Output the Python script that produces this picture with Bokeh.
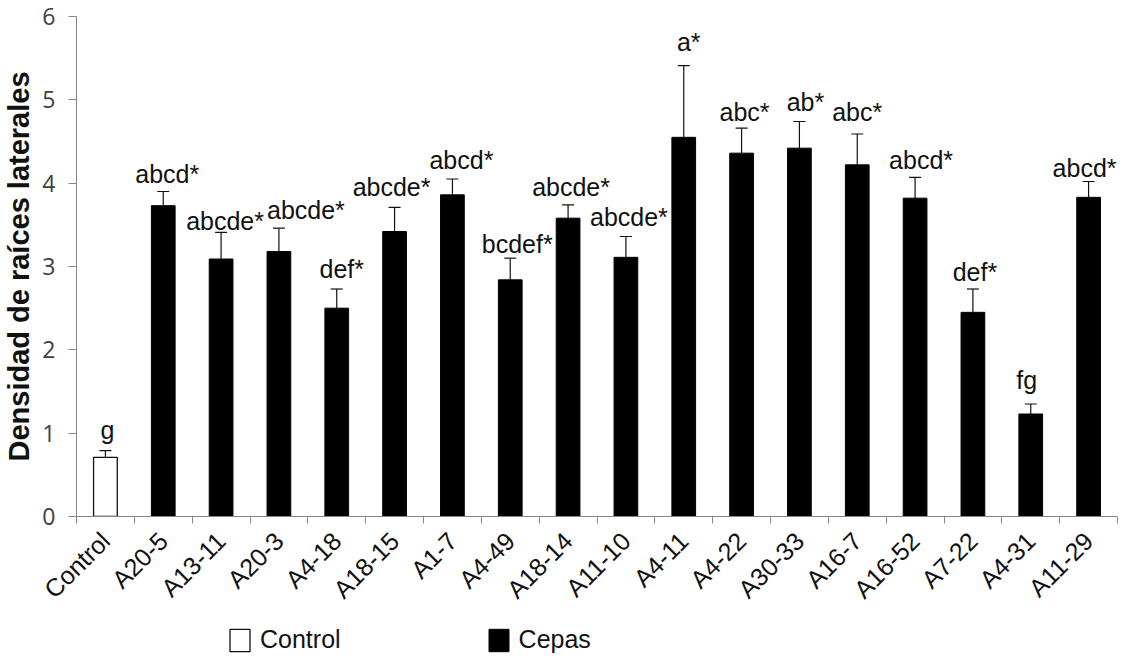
import math
from bokeh.plotting import figure
from bokeh.layouts import column
from bokeh.models import (ColumnDataSource, LinearAxis, FixedTicker, Whisker, TeeHead,
                          LabelSet, Legend, LegendItem)
from bokeh.core.properties import value
from bokeh.embed import file_html
from bokeh.resources import INLINE

# ---------------- data ----------------
categories = ["Control", "A20-5", "A13-11", "A20-3", "A4-18", "A18-15", "A1-7", "A4-49",
              "A18-14", "A11-10", "A4-11", "A4-22", "A30-33", "A16-7", "A16-52", "A7-22",
              "A4-31", "A11-29"]
means = [0.71, 3.73, 3.09, 3.18, 2.50, 3.42, 3.86, 2.84, 3.58, 3.11, 4.55, 4.36, 4.42,
         4.22, 3.82, 2.45, 1.23, 3.83]
errors = [0.08, 0.17, 0.32, 0.28, 0.23, 0.29, 0.19, 0.26, 0.16, 0.25, 0.86, 0.30, 0.32,
          0.37, 0.25, 0.28, 0.12, 0.19]
letters = ["g", "abcd*", "abcde*", "abcde*", "def*", "abcde*", "abcd*", "bcdef*", "abcde*",
           "abcde*", "a*", "abc*", "ab*", "abc*", "abcd*", "def*", "fg", "abcd*"]
groups = ["Control"] + ["Cepas"] * 17
legend_labels = ["Control", "Cepas"]
y_ticks = [0, 1, 2, 3, 4, 5, 6]

# ---------------- styles ----------------
label_dx = [2, 4, 4, 27, 5, -3, 9, 7, 3, 3, 5, 3, 6, 0, 6, 2, -4, -4]
label_dy = [12, 9, 2, 9, 11, 11, 10, 5, 9, 11, 15, 7, 11, 13, 8, 8, 15, 5]
AXIS_GRAY = "#868686"
INK = "#111111"

n = len(categories)
xs = [i + 0.5 for i in range(n)]
uppers = [m + e for m, e in zip(means, errors)]

src = ColumnDataSource(dict(x=xs, top=means, upper=uppers, cat=categories, label=letters,
                            dx=label_dx, dy=label_dy, group=groups))

p = figure(width=1119, height=620, x_range=(0, n), y_range=(0, 6),
           output_backend="svg", toolbar_location=None,
           min_border_left=73, min_border_right=2, min_border_top=16, min_border_bottom=104)
p.outline_line_color = None
p.grid.visible = False
p.background_fill_color = "white"

# bars
ctrl_idx = [i for i, g in enumerate(groups) if g == "Control"]
cep_idx = [i for i, g in enumerate(groups) if g == "Cepas"]
ctrl_src = ColumnDataSource(dict(x=[xs[i] for i in ctrl_idx], top=[means[i] for i in ctrl_idx]))
cep_src = ColumnDataSource(dict(x=[xs[i] for i in cep_idx], top=[means[i] for i in cep_idx]))
p.vbar(x="x", top="top", width=0.41, bottom=0, source=ctrl_src,
       fill_color="white", line_color=INK, line_width=1.3)
p.vbar(x="x", top="top", width=0.41, bottom=0, source=cep_src,
       fill_color="black", line_color="black", line_width=1)

# error bars (upper only)
w = Whisker(source=src, base="x", lower="top", upper="upper", dimension="height",
            line_color=INK, line_width=1.2, lower_head=None,
            upper_head=TeeHead(size=12, line_color=INK, line_width=1.2))
p.add_layout(w)

# letters
labels = LabelSet(source=src, x="x", y="upper", text="label", x_offset="dx", y_offset="dy",
                  text_align="center", text_baseline="alphabetic",
                  text_font=value("Liberation Sans"), text_font_size=value("25px"),
                  text_color=INK)
p.add_layout(labels)

# y axis
ya = p.yaxis[0]
ya.ticker = FixedTicker(ticks=y_ticks)
ya.axis_line_color = AXIS_GRAY
ya.major_tick_line_color = AXIS_GRAY
ya.major_tick_out = 8
ya.major_tick_in = 0
ya.minor_tick_line_color = None
ya.major_label_text_font = "Open Sans"
ya.major_label_text_font_size = "23px"
ya.major_label_text_color = "#404040"
ya.major_label_standoff = 13
ya.axis_label = "Densidad de raíces laterales"
ya.axis_label_text_font = "Liberation Sans"
ya.axis_label_text_font_style = "bold"
ya.axis_label_text_font_size = "29px"
ya.axis_label_text_color = INK
ya.axis_label_standoff = 4

# x axis with ticks at category boundaries
xa = p.xaxis[0]
xa.ticker = FixedTicker(ticks=list(range(n + 1)))
xa.major_label_overrides = {i: "" for i in range(n + 1)}
xa.major_label_text_font_size = "1px"
xa.major_label_standoff = 0
xa.axis_line_color = AXIS_GRAY
xa.major_tick_line_color = AXIS_GRAY
xa.major_tick_out = 7
xa.major_tick_in = 0
xa.minor_tick_line_color = None

# category labels axis
xl = LinearAxis(ticker=FixedTicker(ticks=xs),
                major_label_overrides={x: c for x, c in zip(xs, categories)})
xl.axis_line_color = None
xl.major_tick_line_color = None
xl.minor_tick_line_color = None
xl.major_tick_out = 0
xl.major_tick_in = 0
xl.major_label_orientation = math.pi / 4
xl.major_label_text_font = "Liberation Sans"
xl.major_label_text_font_size = "25px"
xl.major_label_text_color = INK
xl.major_label_standoff = 13
p.add_layout(xl, "below")

# legend strip (separate small figure below the chart)
lg = figure(width=1119, height=34, x_range=(0, 1), y_range=(0, 1),
            output_backend="svg", toolbar_location=None,
            x_axis_location=None, y_axis_location=None,
            min_border_left=0, min_border_right=0, min_border_top=0, min_border_bottom=0)
lg.outline_line_color = None
lg.grid.visible = False
# swatch renderers: zero-size bars, only their legend swatches are visible
r_ctrl = lg.vbar(x=[0.5], top=[0.5], bottom=[0.5], width=0,
                 fill_color="white", line_color=INK, line_width=1.3)
r_cep = lg.vbar(x=[0.5], top=[0.5], bottom=[0.5], width=0,
                fill_color="black", line_color="black", line_width=1)
legend = Legend(items=[LegendItem(label=legend_labels[0], renderers=[r_ctrl]),
                       LegendItem(label=legend_labels[1], renderers=[r_cep])],
                orientation="horizontal", location=(151, 0),
                glyph_width=25, glyph_height=28, label_standoff=8, spacing=145,
                padding=0, margin=0, border_line_color=None, background_fill_alpha=0,
                label_text_font="Liberation Sans", label_text_font_size="25px",
                label_text_color=INK)
lg.add_layout(legend, "center")

layout = column(p, lg, spacing=0)
open("out.html", "w").write(file_html(layout, INLINE))
